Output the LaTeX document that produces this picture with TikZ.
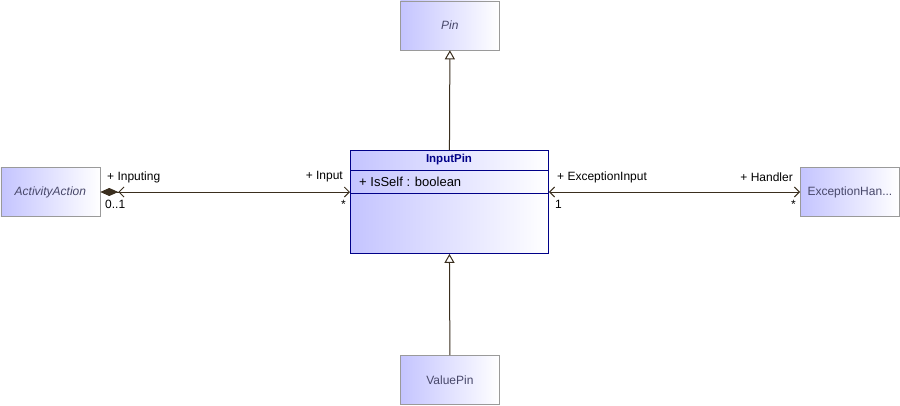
\documentclass[tikz,border=0pt]{standalone}
\usepackage{fontspec}
\setmainfont{Liberation Sans}
\usetikzlibrary{arrows.meta}
\definecolor{gradL}{HTML}{C4C4FF}
\definecolor{boxline}{HTML}{9A9A9A}
\definecolor{boxtext}{HTML}{48486A}
\definecolor{navy}{HTML}{000088}
\definecolor{conn}{HTML}{3A2E1E}
\begin{document}
\begin{tikzpicture}[x=1pt,y=-1pt,
  graybox/.style={draw=boxline,line width=0.8pt,left color=gradL,right color=white,minimum width=99pt,minimum height=49pt,inner sep=0pt,text=boxtext,font=\fontsize{12}{14}\selectfont},
  conline/.style={draw=conn,line width=1pt},
  lbl/.style={font=\fontsize{12}{14}\selectfont,text=black,inner sep=0pt},
  gen/.style={conline,-{Triangle[open,length=9pt,width=10pt,fill=white]}}]
\useasboundingbox (0,0) rectangle (900,405);
% boxes
\node[graybox,anchor=north west] (pin) at (400,0.5) {\itshape Pin};
\node[graybox,anchor=north west] (act) at (0.5,167) {\itshape ActivityAction};
\node[graybox,anchor=north west] (exh) at (800,167) {ExceptionHan...};
\node[graybox,anchor=north west] (val) at (400,355) {ValuePin};
% InputPin class
\node[draw=navy,line width=0.9pt,left color=gradL,right color=white,minimum width=198pt,minimum height=103pt,inner sep=0pt,anchor=north west] (ip) at (350,150) {};
\draw[navy,line width=0.9pt] (350,170) -- (548,170);
\draw[navy,line width=0.9pt] (350,193) -- (548,193);
\node[font=\bfseries\fontsize{11.5}{13}\selectfont,text=navy,inner sep=0pt] (iptitle) at (449,160) {InputPin};
\node[font=\fontsize{13}{15}\selectfont,inner sep=0pt,anchor=west] (ipattr) at (359,182) {+ IsSelf : boolean};
% generalizations
\draw[gen] (ip.north) -- (pin.south);
\draw[gen] (val.north) -- (ip.south);
% associations
\coordinate (aL) at (act.east |- 0,192);
\coordinate (aR) at (ip.west |- 0,192);
\coordinate (bL) at (ip.east |- 0,192);
\coordinate (bR) at (exh.west |- 0,192);
\draw[conline,{Diamond[length=18pt,width=8pt,fill=conn]Straight Barb[length=5pt,width=10pt]}-{Straight Barb[length=5pt,width=10pt]}] (aL) -- (aR);
\draw[conline,{Straight Barb[length=5pt,width=10pt]}-{Straight Barb[length=5pt,width=10pt]}] (bL) -- (bR);
% labels
\node[lbl,anchor=west] (l1) at (107,177) {+ Inputing};
\node[lbl,anchor=west] (l2) at (105,204) {0..1};
\node[lbl,anchor=east] (l3) at (343,177) {+ Input};
\node[lbl,anchor=east] (l4) at (346,204) {*};
\node[lbl,anchor=west] (l5) at (557,177) {+ ExceptionInput};
\node[lbl,anchor=west] (l6) at (555,204) {1};
\node[lbl,anchor=east] (l7) at (793,177) {+ Handler};
\node[lbl,anchor=east] (l8) at (796,204) {*};
\end{tikzpicture}
\end{document}
